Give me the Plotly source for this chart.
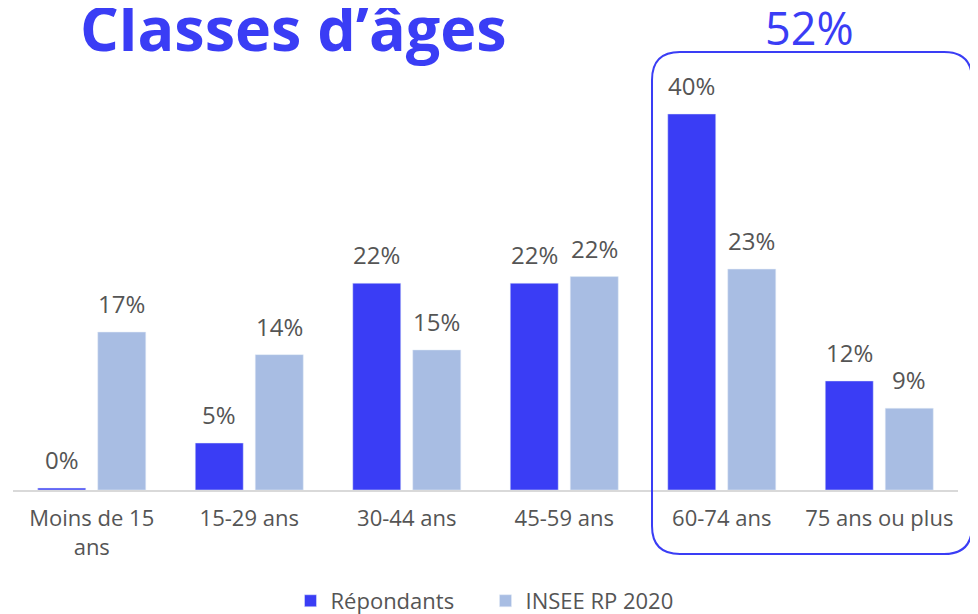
import plotly.graph_objects as go

categories = ["Moins de 15<br>ans", "15-29 ans", "30-44 ans", "45-59 ans", "60-74 ans", "75 ans ou plus"]
repondants = [0.2, 5, 22, 22, 40, 11.6]
insee = [16.8, 14.4, 14.9, 22.7, 23.5, 8.7]
repondants_labels = ["0%", "5%", "22%", "22%", "40%", "12%"]
insee_labels = ["17%", "14%", "15%", "22%", "23%", "9%"]

BLUE = "#3a3df5"
LIGHT = "#a8bde3"
GREY = "#555555"
FONT = "Open Sans, sans-serif"

# la page ajoute une marge de 8px : figure un peu plus petite
W, H = 970, 606

fig = go.Figure()
fig.add_trace(go.Bar(x=categories, y=repondants, name="Répondants", marker_color=BLUE))
fig.add_trace(go.Bar(x=categories, y=insee, name="INSEE RP 2020", marker_color=LIGHT))

# etiquettes au-dessus des barres
annots = []
for cat, v, lab in zip(categories, repondants, repondants_labels):
    annots.append(dict(x=cat, y=v, text=lab, xshift=-30, yshift=10, yanchor="bottom",
                       showarrow=False, font=dict(size=24, color=GREY, family=FONT)))
for cat, v, lab in zip(categories, insee, insee_labels):
    annots.append(dict(x=cat, y=v, text=lab, xshift=30, yshift=10, yanchor="bottom",
                       showarrow=False, font=dict(size=24, color=GREY, family=FONT)))

annots.append(dict(x=0.843, y=1.116, xref="paper", yref="paper", text="52%", showarrow=False,
                   xanchor="center", yanchor="middle",
                   font=dict(size=45, color=BLUE, family=FONT)))

# cadre arrondi autour des 60 ans et plus
x0, x1 = 0.6762, 1.0148
yt, yb = 1.058, -0.1546
rx, ry = 0.0296, 0.0676
path = (f"M {x0+rx},{yt} L {x1-rx},{yt} Q {x1},{yt} {x1},{yt-ry} "
        f"L {x1},{yb+ry} Q {x1},{yb} {x1-rx},{yb} L {x0+rx},{yb} "
        f"Q {x0},{yb} {x0},{yb+ry} L {x0},{yt-ry} Q {x0},{yt} {x0+rx},{yt} Z")

fig.update_layout(
    width=W, height=H,
    margin=dict(l=5, r=20, t=68, b=124, autoexpand=False),
    plot_bgcolor="white", paper_bgcolor="white",
    font=dict(family=FONT, size=22, color=GREY),
    title=dict(text="<b>Classes d’âges</b>", x=72/W, xanchor="left", y=1, yanchor="top",
               pad=dict(t=0, b=0, l=0, r=0),
               font=dict(size=61, color=BLUE, family=FONT)),
    barmode="group", bargap=0.238, bargroupgap=0.2,
    showlegend=True,
    legend=dict(orientation="h", x=0.5, xanchor="center", y=-0.268, yanchor="middle",
                font=dict(size=22, color=GREY), itemwidth=30, entrywidth=150),
    annotations=annots,
    shapes=[dict(type="path", path=path, xref="paper", yref="paper",
                 line=dict(color=BLUE, width=2), layer="above")],
)
fig.update_xaxes(showline=True, linecolor="#d9d9d9", linewidth=2, ticks="", ticklabelstandoff=8,
                 tickfont=dict(size=22, color=GREY))
fig.update_yaxes(visible=False, range=[0, 44.04])

fig.write_html("out.html")
